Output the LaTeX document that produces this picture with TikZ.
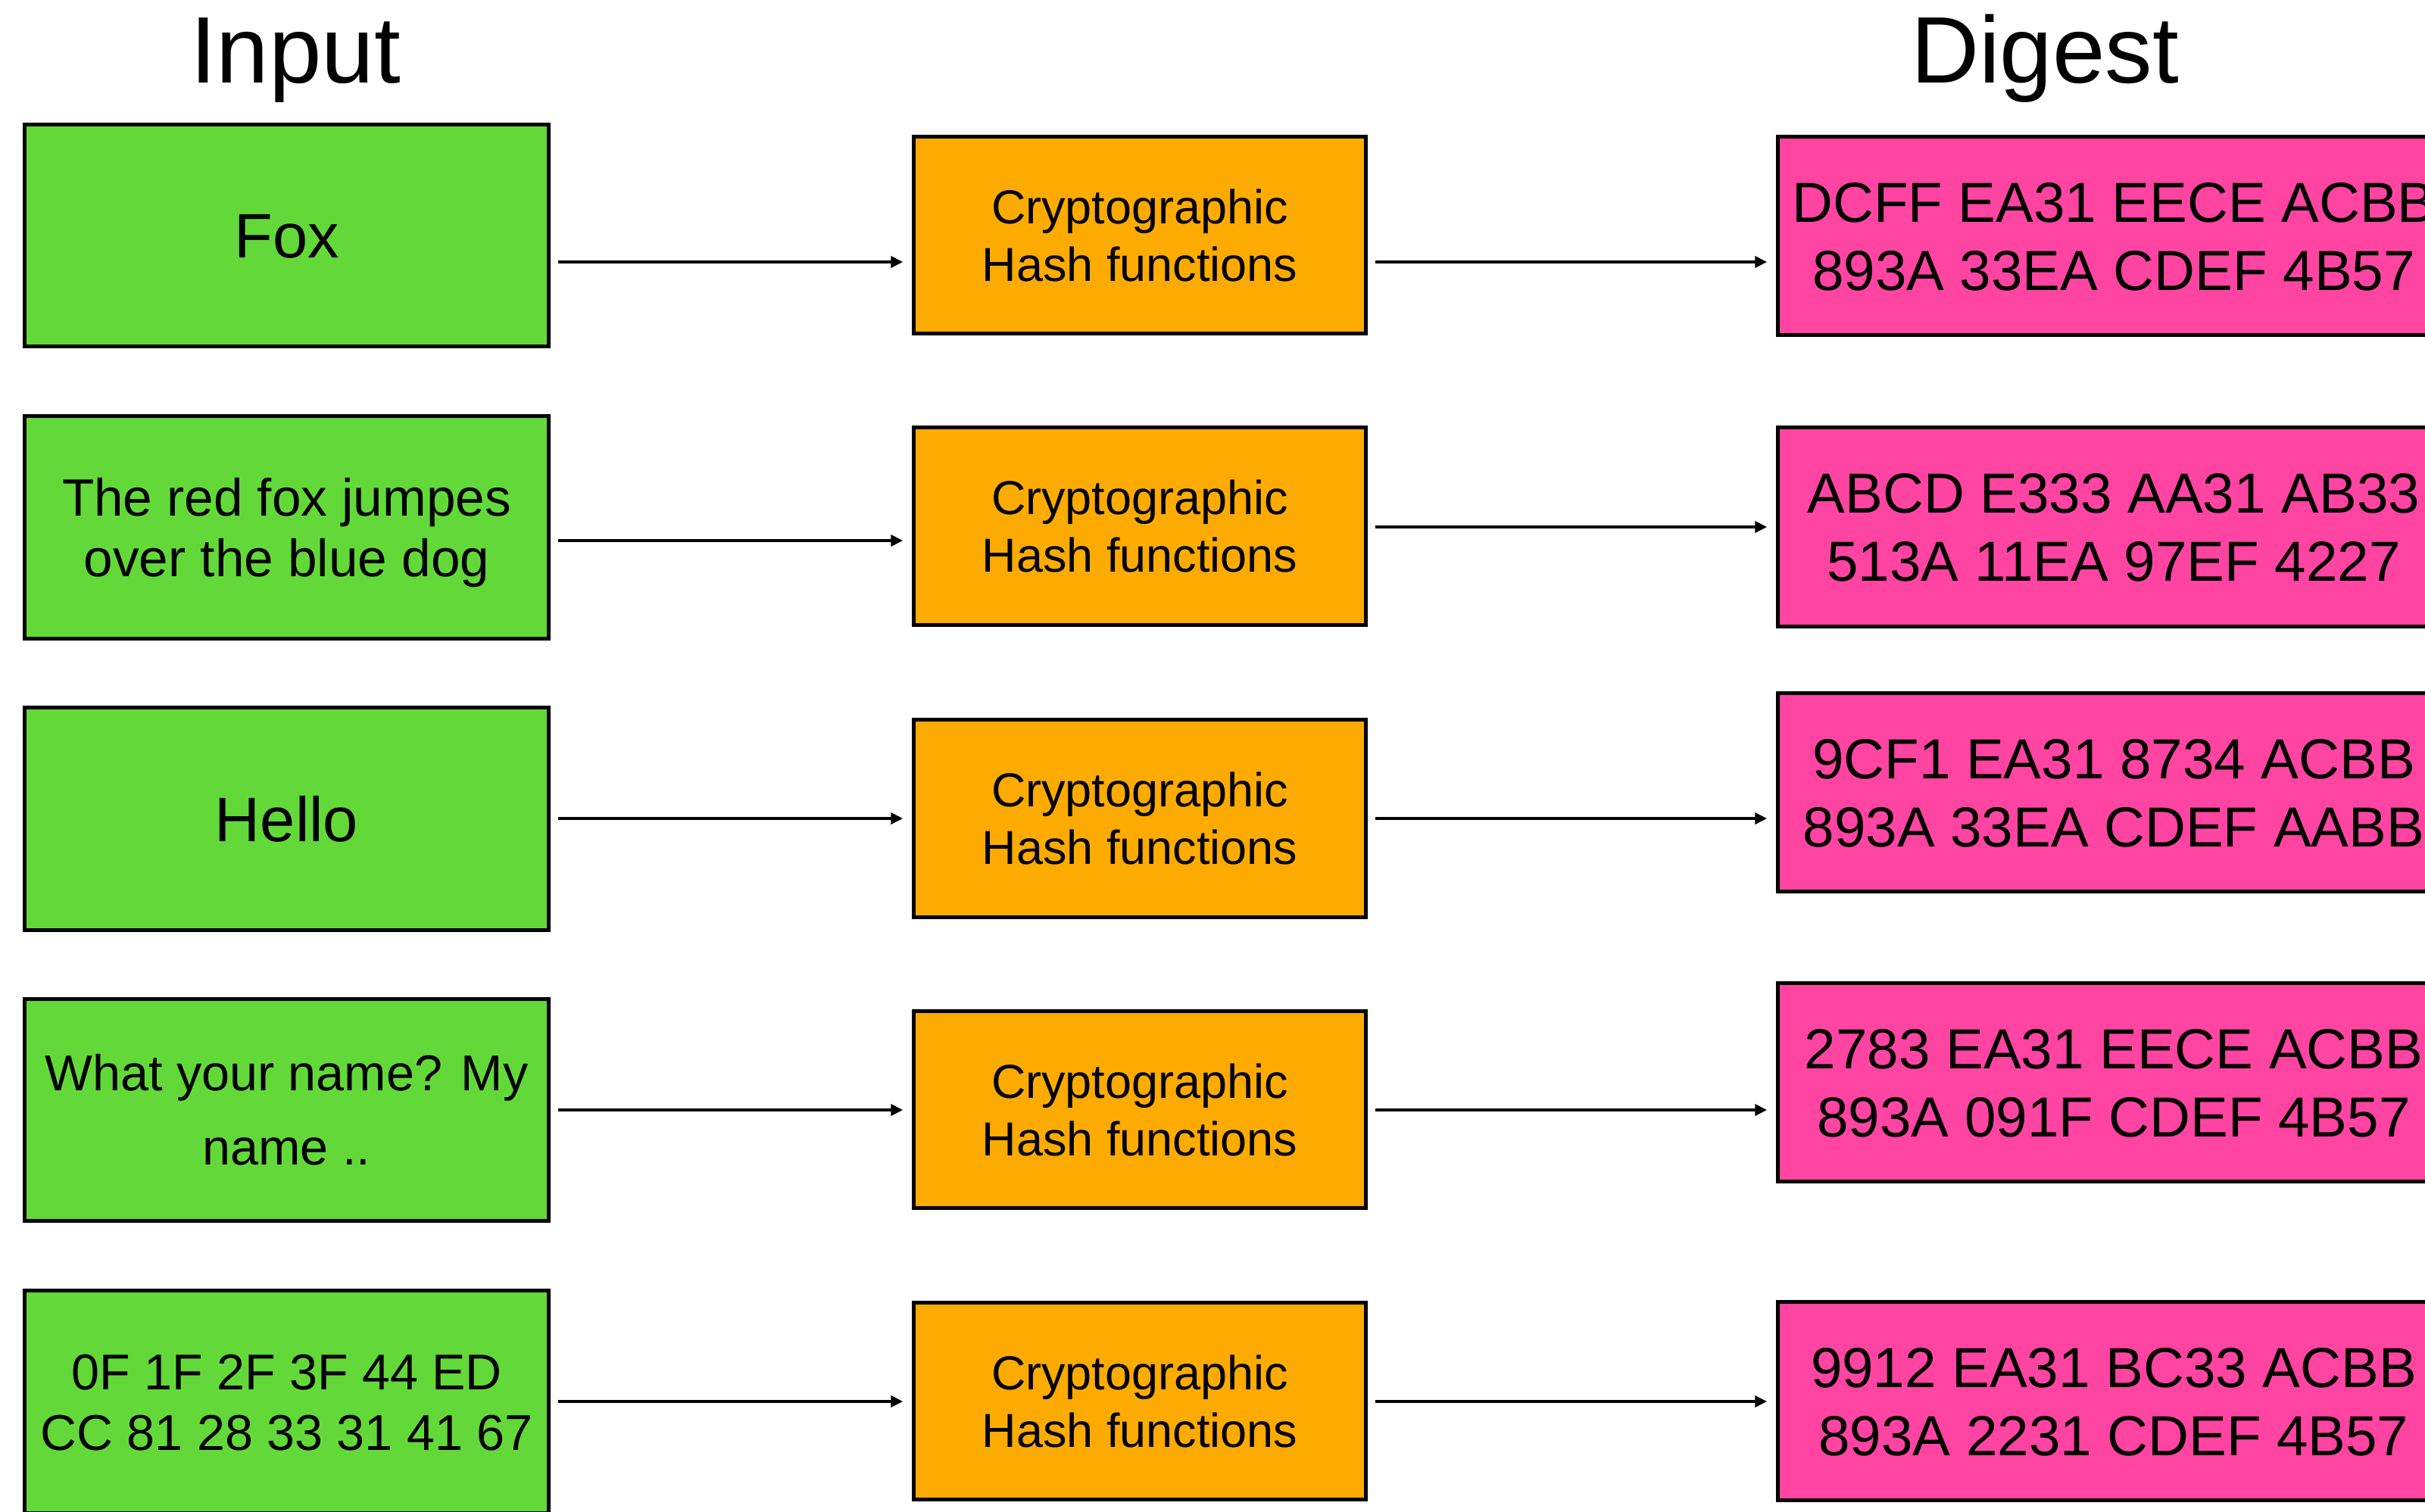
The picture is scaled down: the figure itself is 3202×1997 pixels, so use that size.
\documentclass[tikz,border=0pt]{standalone}
\usepackage{fontspec}
\setmainfont{Liberation Sans}
\usetikzlibrary{arrows.meta}
\definecolor{inputgreen}{RGB}{99,217,57}
\definecolor{hashorange}{RGB}{253,171,0}
\definecolor{digestpink}{RGB}{255,68,161}
% line strut: fixes each line's height/depth so caps sit at the box centre
\newcommand\lnst{\rule[-0.215em]{0pt}{1.146em}}

\begin{document}
\begin{tikzpicture}[x=0.01cm,y=-0.01cm,
  box/.style={draw=black, line width=1.4pt, rectangle, inner sep=2pt, align=center},
  inbox/.style={box, fill=inputgreen, minimum width=6.92cm, minimum height=2.93cm},
  hashbox/.style={box, fill=hashorange, minimum width=5.97cm, minimum height=2.60cm,
    font=\fontsize{17.9}{21.6}\selectfont},
  digbox/.style={box, fill=digestpink, minimum width=8.87cm, minimum height=2.62cm,
    font=\fontsize{21.2}{25.6}\selectfont},
  title/.style={anchor=base, font=\fontsize{35.5}{40}\selectfont},
  arr/.style={line width=1.1pt, -{Triangle[length=4.5pt,width=4.2pt]},
    shorten <=2.8pt, shorten >=3.3pt}
]
\path[use as bounding box] (0,0) rectangle (3202,1997);
\clip (0,0) rectangle (3202,1997);

% column titles
\node[title] (tin) at (390,110) {Input};
\node[title] (tdg) at (2700,110) {Digest};

% inputs
\node[inbox, font=\fontsize{23.6}{28}\selectfont] (g1) at (378.5,311) {\lnst Fox};
\node[inbox, font=\fontsize{19.7}{22.8}\selectfont] (g2) at (378.5,696.5)
  {\lnst The red fox jumpes\\\lnst over the blue dog};
\node[inbox, font=\fontsize{23.6}{28}\selectfont] (g3) at (378.5,1081.5) {\lnst Hello};
\node[inbox, font=\fontsize{18.9}{27.9}\selectfont] (g4) at (378.5,1466)
  {\lnst What your name? My\\\lnst name ..};
\node[inbox, font=\fontsize{18.9}{22.8}\selectfont] (g5) at (378.5,1851.5)
  {\lnst 0F 1F 2F 3F 44 ED\\\lnst CC 81 28 33 31 41 67};

% hash functions
\node[hashbox] (o1) at (1505,310.5) {\lnst Cryptographic\\\lnst Hash functions};
\node[hashbox] (o2) at (1505,695) {\lnst Cryptographic\\\lnst Hash functions};
\node[hashbox] (o3) at (1505,1081) {\lnst Cryptographic\\\lnst Hash functions};
\node[hashbox] (o4) at (1505,1465.5) {\lnst Cryptographic\\\lnst Hash functions};
\node[hashbox] (o5) at (1505,1850.5) {\lnst Cryptographic\\\lnst Hash functions};

% digests
\node[digbox] (d1) at (2791,311.5) {\lnst DCFF EA31 EECE ACBB\\\lnst 893A 33EA CDEF 4B57};
\node[digbox] (d2) at (2791,696) {\lnst ABCD E333 AA31 AB33\\\lnst 513A 11EA 97EF 4227};
\node[digbox] (d3) at (2791,1046.5) {\lnst 9CF1 EA31 8734 ACBB\\\lnst 893A 33EA CDEF AABB};
\node[digbox] (d4) at (2791,1429.5) {\lnst 2783 EA31 EECE ACBB\\\lnst 893A 091F CDEF 4B57};
\node[digbox] (d5) at (2791,1850.5) {\lnst 9912 EA31 BC33 ACBB\\\lnst 893A 2231 CDEF 4B57};

% connector heights
\coordinate (a1) at (0,346);  \coordinate (b1) at (0,346);
\coordinate (a2) at (0,714);  \coordinate (b2) at (0,696);
\coordinate (a3) at (0,1081); \coordinate (b3) at (0,1081);
\coordinate (a4) at (0,1466); \coordinate (b4) at (0,1466);
\coordinate (a5) at (0,1851); \coordinate (b5) at (0,1851);

\foreach \i in {1,...,5}{
  \draw[arr] (g\i.east |- a\i) -- (o\i.west |- a\i);
  \draw[arr] (o\i.east |- b\i) -- (d\i.west |- b\i);
}
\end{tikzpicture}
\end{document}
